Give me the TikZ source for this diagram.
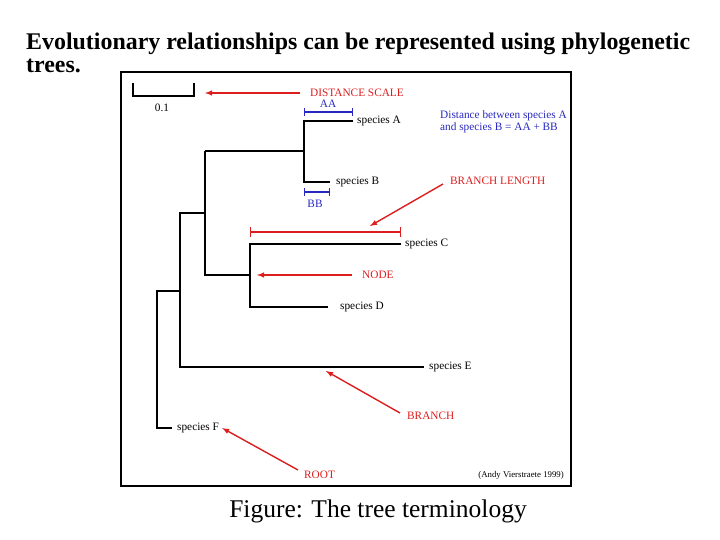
\documentclass[tikz,border=0pt]{standalone}
\usepackage{fontspec}
\setmainfont{Liberation Serif}
\begin{document}
\begin{tikzpicture}[x=1pt,y=-1pt,
  br/.style={line width=1.6pt},
  lab/.style={font=\fontsize{11.3}{12.5}\selectfont,inner sep=0pt,anchor=west},
  rlab/.style={lab,text={rgb,255:red,220;green,30;blue,30}},
  blab/.style={lab,text={rgb,255:red,40;green,40;blue,190}},
  rarr/.style={draw={rgb,255:red,220;green,30;blue,30},line width=1.4pt,-latex},
  rbar/.style={draw={rgb,255:red,220;green,30;blue,30},line width=1.4pt,|-|},
  bbar/.style={draw={rgb,255:red,40;green,40;blue,190},line width=1.2pt,|-|}]
\useasboundingbox (0,0) rectangle (720,540);
\node[anchor=west,font=\bfseries\fontsize{23.9}{26}\selectfont,inner sep=0pt] (t1) at (26,44) {Evolutionary relationships can be represented using phylogenetic};
\node[anchor=west,font=\bfseries\fontsize{23.9}{26}\selectfont,inner sep=0pt] (t2) at (26,66) {trees.};
\node[font=\fontsize{25.5}{28}\selectfont,inner sep=0pt] (cap) at (378,511) {Figure: The tree terminology};
\draw[line width=2pt] (121,72) rectangle (571,486);
% scale
\draw[line width=1.6pt] (133,83) -- (133,96) -- (194,96) -- (194,83);
\node[lab,anchor=center] (s01) at (162,108) {0.1};
\node[rlab] (ds) at (310,93) {DISTANCE SCALE};
\coordinate (dsend) at (205,93);
\draw[rarr] (300,93) -- (dsend);
% tree
\coordinate (nAB) at (304,151);
\node[lab] (A) at (357,121) {species A};
\node[lab] (B) at (336,182) {species B};
\draw[br] (353,121) -- (304,121) -- (304,182) -- (330,182);
\draw[br] (205,151) -- (nAB);
\node[lab] (C) at (405,244) {species C};
\node[lab] (D) at (340,307) {species D};
\draw[br] (401,244) -- (250,244) -- (250,307) -- (328,307);
\draw[br] (205,151) -- (205,275) -- (250,275);
\node[lab] (E) at (429,367) {species E};
\draw[br] (205,213) -- (180,213) -- (180,367) -- (424,367);
\node[lab] (F) at (177,428) {species F};
\draw[br] (180,291) -- (157,291) -- (157,428) -- (172,428);
% blue
\draw[bbar] (304,112) -- (353,112);
\node[blab,anchor=center] (AA) at (328,104) {AA};
\draw[bbar] (304,192) -- (330,192);
\node[blab,anchor=center] (BB) at (315,204) {BB};
\node[blab,align=left] (dist) at (440,122) {Distance between species A\\and species B = AA + BB};
% red
\draw[rbar] (250,232) -- (401,232);
\node[rlab] (bl) at (450,181) {BRANCH LENGTH};
\coordinate (blend) at (370,226);
\draw[rarr] (443,184) -- (blend);
\node[rlab] (nd) at (362,275) {NODE};
\coordinate (ndend) at (257,275);
\draw[rarr] (352,275) -- (ndend);
\node[rlab] (brn) at (407,416) {BRANCH};
\coordinate (brnend) at (326,371);
\draw[rarr] (400,413) -- (brnend);
\node[rlab] (root) at (304,475) {ROOT};
\draw[rarr] (298,470) -- ([xshift=3pt]F.east);
\node[lab,anchor=east,font=\fontsize{8.8}{10}\selectfont] (cr) at (564,475) {(Andy Vierstraete 1999)};
\end{tikzpicture}
\end{document}
